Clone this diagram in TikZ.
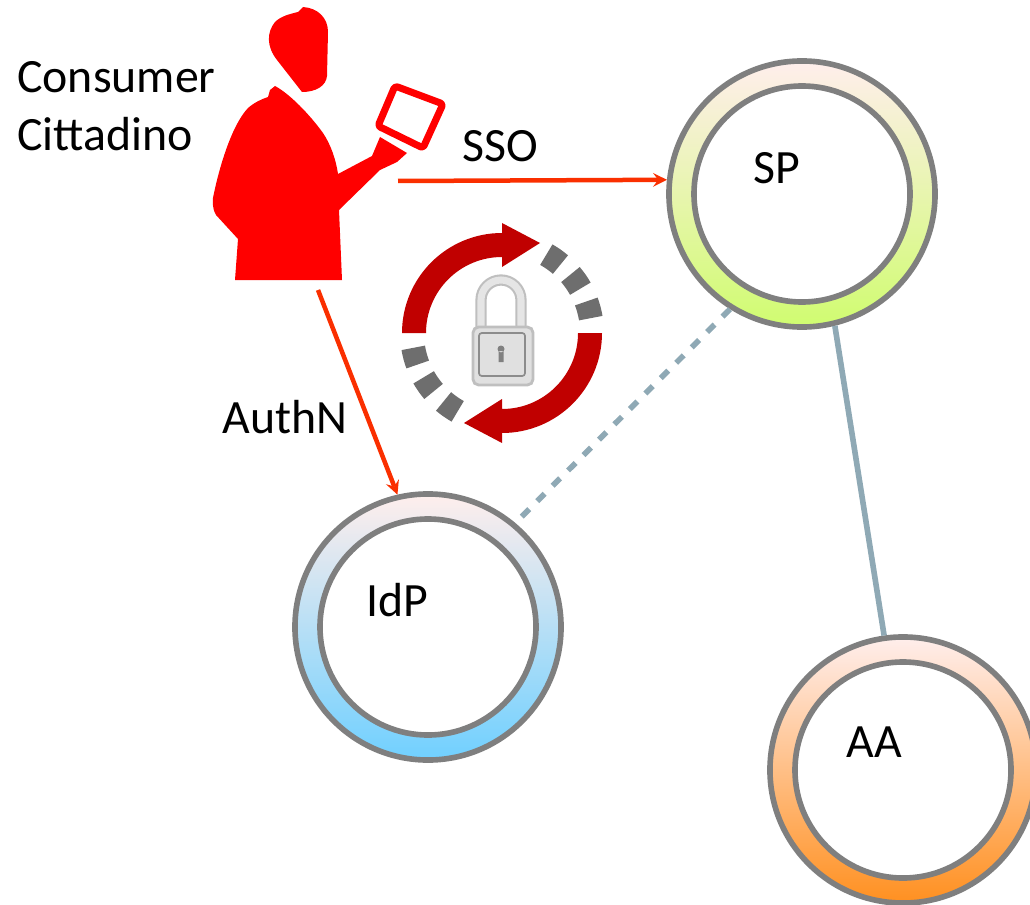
\documentclass[tikz,border=0pt]{standalone}
\usepackage{fontspec}
\setmainfont{Carlito}
\usetikzlibrary{arrows, positioning}

\definecolor{ringgray}{HTML}{7F7F7F}
\definecolor{linkblue}{HTML}{8FA9B5}
\definecolor{flowred}{HTML}{FA2F00}
\definecolor{loopred}{HTML}{C00000}
\definecolor{dashgray}{HTML}{6E6E6E}
\definecolor{ringpink}{HTML}{FFEEEC}

\tikzset{
    ringnode/.style={circle, draw=ringgray, line width=4pt, inner sep=0pt, minimum size=6.65cm},
    holenode/.style={circle, draw=ringgray, line width=4pt, inner sep=0pt, fill=white, minimum size=5.4cm},
    tag/.style={font=\fontsize{34}{41}\selectfont, inner sep=0pt},
    flow/.style={-stealth, draw=flowred, line width=3.2pt},
    link/.style={draw=linkblue, line width=4pt}
}

\begin{document}
\begin{tikzpicture}[x=0.025cm, y=0.025cm]
    \useasboundingbox (0,0) rectangle (1030,904);

    % Rings
    \clip (0,0) rectangle (1030,904);
    \node[ringnode, top color=ringpink, middle color={rgb,255:red,243;green,240;blue,208}, bottom color={rgb,255:red,208;green,252;blue,112}] (SP) at (802,710) {};
    \node[holenode] (SPhole) at (802,710) {};
    \node[ringnode, top color=ringpink, middle color={rgb,255:red,232;green,230;blue,240}, bottom color={rgb,255:red,112;green,208;blue,255}] (IdP) at (428,277) {};
    \node[holenode] (IdPhole) at (428,277) {};
    \node[ringnode, top color=ringpink, middle color={rgb,255:red,255;green,222;blue,212}, bottom color={rgb,255:red,255;green,144;blue,32}] (AA) at (903,134) {};
    \node[holenode] (AAhole) at (903,134) {};

    % Labels
    \node[tag] (SPtext) at (777,736) {SP};
    \node[tag] (IdPtext) at (397,304) {IdP};
    \node[tag] (AAtext) at (874,162) {AA};
    \node[tag] (SSOtext) at (500,758) {SSO};
    \node[tag] (AuthNtext) at (285,487) {AuthN};
    \node[tag, anchor=west, align=left] (usertext) at (17,798) {Consumer\\Cittadino};

    % Consumer
    \begin{scope}[shift={(0,904)}, yscale=-1]
        \fill[red] (298,12) -- (303,7) .. controls (318,8) and (328,18) .. (328,32) -- (327,76) .. controls (326,86) and (316,92) .. (302,92) -- (277,60) .. controls (266,46) and (267,32) .. (275,22) .. controls (281,16) and (290,14) .. (298,12) -- cycle;
        \fill[red] (275,86) .. controls (290,94) and (310,115) .. (323,133) .. controls (331,145) and (336,160) .. (338,174) -- (372,156) -- (380,137) -- (407,153) -- (397,162) -- (380,170) -- (339,210) -- (342,280) -- (235,280) -- (238,239) -- (216,215) .. controls (212,208) and (212,200) .. (214,193) .. controls (220,165) and (232,125) .. (248,108) .. controls (255,102) and (262,99) .. (268,97) -- (270,90) -- cycle;
        \draw[red, line width=5pt, line join=round, rounded corners=2pt] (395,86) -- (443,104) -- (423,148) -- (378,126) -- cycle;
        \coordinate (userright) at (398,181);
        \coordinate (userbottom) at (318,290);
    \end{scope}

    % Connectors
    \draw[flow] (userright) -- (SP.174);
    \draw[flow] (userbottom) -- (IdP.103);
    \draw[link, dash pattern=on 7.5pt off 8pt] (SP.238) -- (IdP.50);
    \draw[link] (SP.284) -- (AA.98);

    % Circular arrows
    \fill[loopred] (402,571) arc (180:90:100) -- (502,681) -- (540,661) -- (502,637) -- (502,647) arc (90:180:76) -- cycle;
    \fill[loopred] (602,571) arc (0:-90:100) -- (502,461) -- (464,481) -- (502,505) -- (502,495) arc (-90:0:76) -- cycle;
    \foreach \a in {15,35,55,195,215,235} {
        \draw[dashgray, line width=17pt] (502,571) ++(\a-5.5:90) arc (\a-5.5:\a+5.5:90);
    }

    % Lock
    \begin{scope}[shift={(0,904)}, yscale=-1]
        \draw[black!25, line width=8pt] (481,330) -- (481,300) arc (180:360:20) -- (521,330);
        \draw[black!10, line width=5pt] (481,330) -- (481,300) arc (180:360:20) -- (521,330);
        \draw[black!25, fill=black!12, line width=2pt, rounded corners=4pt] (473,327) rectangle (533,385);
        \draw[black!45, line width=1.2pt, rounded corners=2pt] (479,333) rectangle (525,376);
        \fill[black!50] (501,349) circle (3.5) (498.5,351) rectangle (503.5,362);
    \end{scope}
\end{tikzpicture}
\end{document}
